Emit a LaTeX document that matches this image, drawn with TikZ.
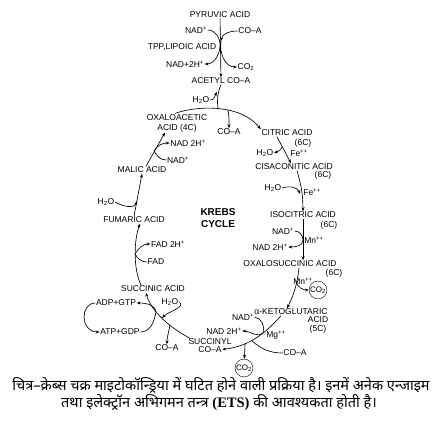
\documentclass[tikz,border=0pt]{standalone}
\usepackage{fontspec}
\setmainfont{Liberation Sans}
\newfontfamily\hindifont[Script=Devanagari]{Noto Sans}
\newfontfamily\capserif{Liberation Serif}
\usetikzlibrary{arrows.meta, positioning, calc}

\begin{document}
\begin{tikzpicture}[
        x=1pt, y=-1pt,
        lbl/.style={font=\fontsize{8.5}{10}\selectfont, inner sep=0.5pt},
        co2/.style={draw, circle, font=\fontsize{8}{9}\selectfont, inner sep=0.2pt},
        captxt/.style={font=\fontsize{14.5}{19}\selectfont\bfseries\hindifont, inner sep=0pt},
        ln/.style={line width=0.65pt},
        arr/.style={ln, -{Stealth[length=4pt, width=3pt]}},
        node distance=0pt
    ]
    \useasboundingbox (0,0) rectangle (444,429);

    \node[lbl] (pyruvic) at (220,15) {PYRUVIC ACID};
    \node[lbl] (nadA) at (196,30) {NAD\textsuperscript{+}};
    \node[lbl] (coaA) at (250,31) {CO--A};
    \node[lbl] (tpp) at (182,47) {TPP,LIPOIC ACID};
    \node[lbl] (nadhA) at (185,64) {NAD+2H\textsuperscript{+}};
    \node[lbl] (co2A) at (246,67) {CO\textsubscript{2}};
    \node[lbl] (acetyl) at (221,81) {ACETYL CO--A};

    \node[lbl] (h2oA) at (201,100) {H\textsubscript{2}O};
    \node[lbl, align=center] (oxalo) at (177,123) {OXALOACETIC\\ACID (4C)};
    \node[lbl] (coaB) at (229,132) {CO--A};
    \node[lbl] (citric) at (287,133) {CITRIC ACID};
    \node[lbl] (c6A) at (303,143) {(6C)};
    \node[lbl] (h2oB) at (265,153) {H\textsubscript{2}O};
    \node[lbl] (feA) at (299,153) {Fe\textsuperscript{++}};
    \node[lbl] (cisacon) at (294,167) {CISACONITIC ACID};
    \node[lbl] (c6B) at (323,175) {(6C)};
    \node[lbl] (h2oC) at (273,188) {H\textsubscript{2}O};
    \node[lbl] (feB) at (312,192) {Fe\textsuperscript{++}};
    \node[lbl] (isocit) at (303,215) {ISOCITRIC ACID};
    \node[lbl] (c6C) at (329,225) {(6C)};
    \node[lbl] (nadB) at (283,231) {NAD\textsuperscript{+}};
    \node[lbl] (mnA) at (314,240) {Mn\textsuperscript{++}};
    \node[lbl] (nadhB) at (270,247) {NAD 2H\textsuperscript{+}};
    \node[lbl] (oxsucc) at (290,264) {OXALOSUCCINIC ACID};
    \node[lbl] (c6D) at (334,273) {(6C)};
    \node[lbl] (mnB) at (303,281) {Mn\textsuperscript{++}};
    \node[co2] (co2B) at (318,290) {CO\textsubscript{2}};
    \node[lbl] (aketo) at (291,312) {α-KETOGLUTARIC};
    \node[lbl] (acidK) at (318,320) {ACID};
    \node[lbl] (c5) at (318,329) {(5C)};
    \node[lbl] (nadC) at (243,317) {NAD\textsuperscript{+}};
    \node[lbl] (nadhC) at (224,331) {NAD 2H\textsuperscript{+}};
    \node[lbl] (mg) at (276,335) {Mg\textsuperscript{++}};
    \node[lbl] (succoa) at (210,342) {SUCCINYL};
    \node[lbl, below=of succoa] (succoaB) {CO--A};
    \node[lbl] (coaC) at (295,353) {CO--A};
    \node[co2] (co2C) at (244,368) {CO\textsubscript{2}};
    \node[lbl] (coaD) at (167,348) {CO--A};
    \node[lbl] (adp) at (116,303) {ADP+GTP};
    \node[lbl] (atp) at (120,332) {ATP+GDP};
    \node[lbl] (h2oD) at (170,302) {H\textsubscript{2}O};
    \node[lbl] (succin) at (153,289) {SUCCINIC ACID};
    \node[lbl] (fad) at (156,262) {FAD};
    \node[lbl] (fadh) at (168,244) {FAD 2H\textsuperscript{+}};
    \node[lbl] (fumaric) at (134,220) {FUMARIC ACID};
    \node[lbl] (h2oE) at (106,202) {H\textsubscript{2}O};
    \node[lbl] (malic) at (142,170) {MALIC ACID};
    \node[lbl] (nadD) at (178,160) {NAD\textsuperscript{+}};
    \node[lbl] (nadhD) at (188,143) {NAD 2H\textsuperscript{+}};
    \node[font=\fontsize{10}{12}\selectfont\bfseries, align=center] (krebs) at (218,218) {KREBS\\CYCLE};

    \node[captxt] (capA) at (221,385) {चित्र–क्रेब्स चक्र माइटोकॉन्ड्रिया में घटित होने वाली प्रक्रिया है। इनमें अनेक एन्जाइम};
    \node[captxt] (capB) at (219,403) {तथा इलेक्ट्रॉन अभिगमन तन्त्र {\capserif(ETS)} की आवश्यकता होती है।};

    \coordinate (jA) at (220,45);
    \coordinate (jB) at (221,41);
    \coordinate (jC) at (218,108);
    \coordinate (jD) at (217,92);
    \coordinate (jE) at (228,110);
    \coordinate (jF) at (282,147);
    \coordinate (jG) at (300,194);
    \coordinate (jH) at (303,240);
    \coordinate (jI) at (296,281);
    \coordinate (jJ) at (263,333);
    \coordinate (jK) at (252,341);
    \coordinate (jL) at (245,344);
    \coordinate (jM) at (156,312);
    \coordinate (jN) at (162,318);
    \coordinate (jO) at (170,325);
    \coordinate (jP) at (135,254);
    \coordinate (jQ) at (137,201);
    \coordinate (jR) at (154,151);

    \draw[arr] (pyruvic) -- (acetyl);
    \draw[arr] (nadA.east) to[out=0, in=90] (jA) to[out=-90, in=0] (nadhA.east);
    \draw[arr] (coaA.west) to[out=180, in=80] (jB);
    \draw[arr] (jB) to[out=-100, in=180] (co2A.west);

    \draw[ln] (acetyl.south) to[bend right=15] (jC);
    \draw[arr] (h2oA.east) to[out=-10, in=-120] (jD);
    \draw[arr] ([xshift=-2pt]oxalo.north) .. controls (195,106) and (240,103) .. (citric.north west);
    \draw[arr] (jE) to[out=-80, in=90] (coaB.north);

    \draw[arr] ([xshift=-10pt]citric.south) -- ([xshift=-3pt]cisacon.north);
    \draw[arr] (jF) to[out=-110, in=20] (h2oB.east);
    \draw[arr] ([xshift=3pt]cisacon.south) to[bend left=8] (isocit.north);
    \draw[arr] (h2oC.east) to[out=20, in=110] (jG);

    \draw[arr] (isocit.south -| jH) -- (oxsucc.north -| jH);
    \draw[arr] (nadB.east) to[out=0, in=90] (jH) to[out=-90, in=0] (nadhB.east);
    \draw[arr] ([xshift=9pt]oxsucc.south) to[bend left=10] ([xshift=-4pt]aketo.north);
    \draw[arr] (jI) to[out=-80, in=180] (co2B.west);

    \draw[arr] ([xshift=-10pt]aketo.south) .. controls (268,330) and (252,346) .. (succoaB.east);
    \draw[arr] (nadC.east) to[out=-10, in=70] (jJ) to[out=-140, in=0] (nadhC.east);
    \draw[ln] (coaC.west) to[out=180, in=-40] (jK);
    \draw[arr] (jL) -- (co2C);

    \draw[arr] ([xshift=-20pt]succoa.north) .. controls (165,325) and (150,308) .. ([xshift=-7pt]succin.south);
    \draw[arr] (atp.east) to[out=0, in=-100] (jM) to[out=100, in=0] (adp.east);
    \draw[arr] (adp.west) .. controls (80,303) and (80,332) .. (atp.west);
    \draw[arr] (h2oD.east) to[out=-30, in=45] (jN);
    \draw[arr] (jO) to[out=-100, in=90] (coaD.north);

    \draw[arr] ([xshift=-12pt]succin.north) .. controls (133,268) and (134,240) .. ([xshift=6pt]fumaric.south);
    \draw[arr] (fad.west) to[out=180, in=-60] (jP) to[out=60, in=180] (fadh.west);
    \draw[arr] (fumaric.north) -- (malic.south);
    \draw[arr] (h2oE.east) to[out=-30, in=-110] (jQ);
    \draw[arr] ([xshift=4pt]malic.north) -- ([xshift=-12pt]oxalo.south);
    \draw[arr] (nadD.west) to[out=180, in=-60] (jR) to[out=60, in=180] (nadhD.west);
\end{tikzpicture}
\end{document}
